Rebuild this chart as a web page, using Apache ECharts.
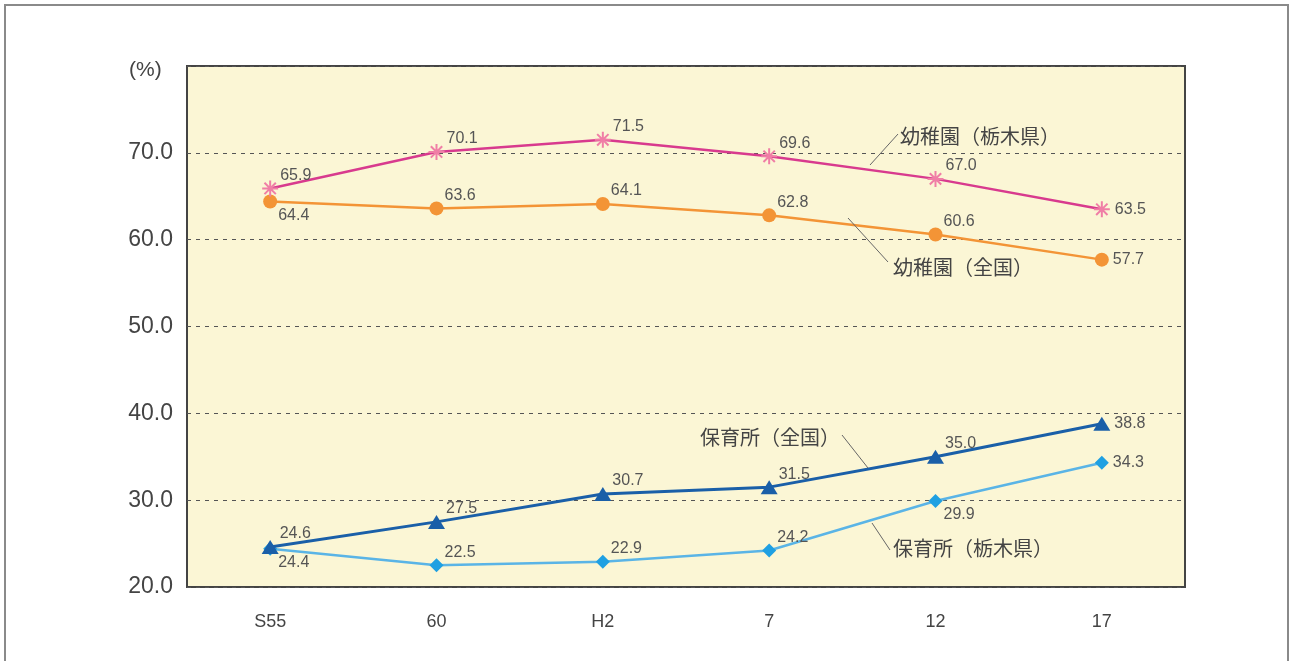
<!DOCTYPE html>
<html>
<head>
<meta charset="utf-8">
<script src="https://cdn.jsdelivr.net/npm/echarts@6/dist/echarts.min.js"></script>
<style>
html,body{margin:0;padding:0;background:#fff;}
#c{width:1292px;height:661px;}
</style>
</head>
<body>
<div id="c"></div>
<script>
const categories = ['S55', '60', 'H2', '7', '12', '17'];
const kinderTochigi = [65.9, 70.1, 71.5, 69.6, 67.0, 63.5];
const kinderNational = [64.4, 63.6, 64.1, 62.8, 60.6, 57.7];
const nurseryNational = [24.6, 27.5, 30.7, 31.5, 35.0, 38.8];
const nurseryTochigi = [24.4, 22.5, 22.9, 24.2, 29.9, 34.3];
const seriesNames = ['幼稚園（栃木県）', '幼稚園（全国）', '保育所（全国）', '保育所（栃木県）'];

// label placement per point (style only)
const sideKT = ['ur', 'ur', 'ur', 'ur', 'ur', 'r'];
const sideKN = ['dr', 'ur', 'ur', 'ur', 'ur', 'r'];
const sideNN = ['ur', 'ur', 'ur', 'ur', 'ur', 'r'];
const sideNT = ['dr', 'ur', 'ur', 'ur', 'dr', 'r'];

const numFont = '"Liberation Sans", Arial, sans-serif';
const jpFont = '"Noto Sans CJK JP", sans-serif';

function build(values, sides) {
  return values.map((v, i) => {
    const s = sides[i];
    const off = s === 'ur' ? [-3, -13] : s === 'dr' ? [-3, 14] : [0, 0];
    return { value: v, label: { position: 'right', offset: off } };
  });
}

const asterisk = 'path://M10,0L10,20M0,10L20,10M2.9,2.9L17.1,17.1M2.9,17.1L17.1,2.9';

const labelBase = {
  show: true, color: '#555', fontSize: 16, fontFamily: numFont, distance: 4,
  formatter: p => p.value.toFixed(1)
};

const chart = echarts.init(document.getElementById('c'));
chart.setOption({
  backgroundColor: '#fff',
  animation: false,
  grid: { left: 187, top: 66, right: 107, bottom: 74, show: true, backgroundColor: '#fbf6d5', borderColor: '#444', borderWidth: 2 },
  xAxis: {
    type: 'category', data: categories, boundaryGap: true,
    axisLine: { show: false }, axisTick: { show: false },
    axisLabel: { color: '#444', fontSize: 18, fontFamily: numFont, margin: 26 }
  },
  yAxis: {
    type: 'value', min: 20, max: 80, interval: 10,
    axisLine: { show: false }, axisTick: { show: false },
    axisLabel: { color: '#444', fontSize: 23, fontFamily: numFont, margin: 14,
      formatter: v => v >= 80 ? '' : v.toFixed(1) },
    splitLine: { lineStyle: { color: '#555', type: [4, 5], width: 1 } }
  },
  series: [
    {
      name: seriesNames[0], type: 'line', data: build(kinderTochigi, sideKT),
      symbol: asterisk, symbolSize: 16,
      lineStyle: { color: '#d83a8e', width: 2.5 },
      itemStyle: { color: 'rgba(0,0,0,0)', borderColor: '#f07ea6', borderWidth: 2 },
      label: labelBase, z: 4
    },
    {
      name: seriesNames[1], type: 'line', data: build(kinderNational, sideKN),
      symbol: 'circle', symbolSize: 14,
      lineStyle: { color: '#f39436', width: 2.5 },
      itemStyle: { color: '#f39436' },
      label: labelBase, z: 3
    },
    {
      name: seriesNames[2], type: 'line', data: build(nurseryNational, sideNN),
      symbol: 'triangle', symbolSize: [17, 14],
      lineStyle: { color: '#1a5fa8', width: 3 },
      itemStyle: { color: '#1a5fa8' },
      label: labelBase, z: 3
    },
    {
      name: seriesNames[3], type: 'line', data: build(nurseryTochigi, sideNT),
      symbol: 'diamond', symbolSize: 14,
      lineStyle: { color: '#5ab4e6', width: 2.5 },
      itemStyle: { color: '#1fa0e2' },
      label: labelBase, z: 2
    }
  ],
  graphic: [
    { type: 'rect', shape: { x: 5, y: 5, width: 1283, height: 720 }, style: { fill: 'none', stroke: '#8a8a8a', lineWidth: 2 }, z: 100 },
    { type: 'text', x: 129, y: 70, style: { text: '(%)', fill: '#444', font: '21px ' + numFont, textVerticalAlign: 'middle' } },
    { type: 'line', shape: { x1: 870, y1: 165, x2: 898, y2: 134 }, style: { stroke: '#666', lineWidth: 1 }, z: 50 },
    { type: 'text', x: 900, y: 136, style: { text: seriesNames[0], fill: '#444', font: '20px ' + jpFont, textVerticalAlign: 'middle' }, z: 50 },
    { type: 'line', shape: { x1: 848, y1: 218, x2: 888, y2: 262 }, style: { stroke: '#666', lineWidth: 1 }, z: 50 },
    { type: 'text', x: 893, y: 267, style: { text: seriesNames[1], fill: '#444', font: '20px ' + jpFont, textVerticalAlign: 'middle' }, z: 50 },
    { type: 'line', shape: { x1: 842, y1: 435, x2: 868, y2: 468 }, style: { stroke: '#666', lineWidth: 1 }, z: 50 },
    { type: 'text', x: 700, y: 437, style: { text: seriesNames[2], fill: '#444', font: '20px ' + jpFont, textVerticalAlign: 'middle' }, z: 50 },
    { type: 'line', shape: { x1: 872, y1: 523, x2: 890, y2: 550 }, style: { stroke: '#666', lineWidth: 1 }, z: 50 },
    { type: 'text', x: 893, y: 548, style: { text: seriesNames[3], fill: '#444', font: '20px ' + jpFont, textVerticalAlign: 'middle' }, z: 50 }
  ]
});
</script>
</body>
</html>
